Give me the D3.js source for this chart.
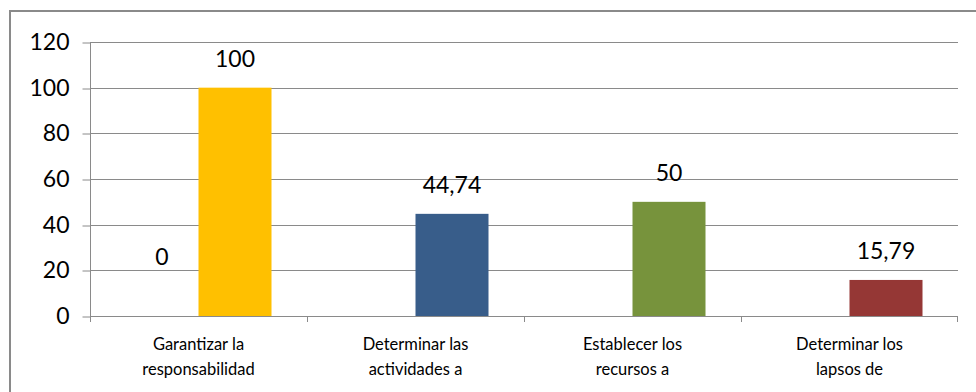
<!DOCTYPE html>
<html>
<head>
<meta charset="utf-8">
<script src="https://cdn.jsdelivr.net/npm/d3@7"></script>
<style>
  body { margin: 0; background: #fff; }
  svg { display: block; font-family: Lato, "Liberation Sans", sans-serif; }
</style>
</head>
<body>
<div id="plot"></div>
<script>
// datos
const categories = ["Garantizar la responsabilidad", "Determinar las actividades a", "Establecer los recursos a", "Determinar los lapsos de"];
const categoryLines = [["Garantizar la", "responsabilidad"], ["Determinar las", "actividades a"], ["Establecer los", "recursos a"], ["Determinar los", "lapsos de"]];
const series1 = [0, null, null, null];
const series2 = [100, 44.74, 50, 15.79];
const barColors = ["#FFC000", "#385D8A", "#77933C", "#953735"];
const yTicks = [0, 20, 40, 60, 80, 100, 120];

const width = 976, height = 392;
const marginLeft = 90, marginRight = 18, marginTop = 42, marginBottom = 76;
const gray = "#8a8a8a";

const svg = d3.select("#plot").append("svg")
    .attr("width", width)
    .attr("height", height);

// marco exterior
svg.append("rect")
    .attr("x", 10).attr("y", 11)
    .attr("width", width + 20).attr("height", height + 20)
    .attr("fill", "none")
    .attr("stroke", gray)
    .attr("stroke-width", 2);

const y = d3.scaleLinear()
    .domain([0, 120])
    .range([height - marginBottom, marginTop]);

const x0 = d3.scaleBand()
    .domain(categories)
    .range([marginLeft, width - marginRight])
    .padding(0);

const gap = x0.bandwidth() * 0.1636;
const x1 = d3.scaleBand()
    .domain(["s1", "s2"])
    .range([gap, x0.bandwidth() - gap])
    .padding(0);

// lineas de cuadricula
svg.append("g")
    .selectAll("line")
    .data(yTicks.filter(d => d > 0))
    .join("line")
    .attr("x1", marginLeft).attr("x2", width - marginRight)
    .attr("y1", d => Math.round(y(d)) + 0.5).attr("y2", d => Math.round(y(d)) + 0.5)
    .attr("stroke", gray)
    .attr("stroke-width", 1);

// eje y
const yAxis = svg.append("g")
    .attr("transform", `translate(${marginLeft + 0.5},0)`)
    .call(d3.axisLeft(y).tickValues(yTicks).tickSize(8).tickPadding(13).tickSizeOuter(0));
yAxis.select(".domain").remove();
yAxis.selectAll(".tick line").attr("stroke", gray)
    .attr("transform", d => `translate(0,${Math.round(y(d)) + 0.5 - y(d)})`);
yAxis.selectAll(".tick text")
    .attr("fill", "#000")
    .style("font-size", "23px")
    .style("font-family", "Lato, 'Liberation Sans', sans-serif");
svg.append("line")
    .attr("x1", marginLeft + 0.5).attr("x2", marginLeft + 0.5)
    .attr("y1", y(120)).attr("y2", y(0) + 6)
    .attr("stroke", gray);

// barras
const groups = svg.append("g")
    .selectAll("g")
    .data(categories)
    .join("g")
    .attr("transform", d => `translate(${x0(d)},0)`);

groups.append("rect")
    .attr("x", x1("s2"))
    .attr("width", x1.bandwidth())
    .attr("y", (d, i) => y(series2[i]))
    .attr("height", (d, i) => y(0) - y(series2[i]))
    .attr("fill", (d, i) => barColors[i]);

groups.filter((d, i) => series1[i] != null)
    .append("rect")
    .attr("x", x1("s1"))
    .attr("width", x1.bandwidth())
    .attr("y", (d, i) => y(0))
    .attr("height", 0)
    .attr("fill", "#4F81BD");

// etiquetas de datos
const fmt = v => String(v).replace(".", ",");
groups.append("text")
    .attr("x", x1("s2") + x1.bandwidth() / 2)
    .attr("y", (d, i) => y(series2[i]) - 21)
    .attr("text-anchor", "middle")
    .style("font-size", "23px")
    .text((d, i) => fmt(series2[i]));

groups.filter(d => series1[categories.indexOf(d)] != null)
    .append("text")
    .attr("x", x1("s1") + x1.bandwidth() / 2)
    .attr("y", d => y(series1[categories.indexOf(d)]) - 51)
    .attr("text-anchor", "middle")
    .style("font-size", "23px")
    .text(d => fmt(series1[categories.indexOf(d)]));

// eje x
svg.append("line")
    .attr("x1", marginLeft).attr("x2", width - marginRight)
    .attr("y1", Math.round(y(0)) + 0.5).attr("y2", Math.round(y(0)) + 0.5)
    .attr("stroke", gray);

svg.append("g")
    .selectAll("line")
    .data(categories.slice(1).concat(["end"]))
    .join("line")
    .attr("x1", d => d === "end" ? width - marginRight - 0.5 : Math.round(x0(d)) + 0.5)
    .attr("x2", d => d === "end" ? width - marginRight - 0.5 : Math.round(x0(d)) + 0.5)
    .attr("y1", y(0)).attr("y2", y(0) + 6)
    .attr("stroke", gray);

const labels = svg.append("g")
    .selectAll("text")
    .data(categories)
    .join("text")
    .attr("x", d => x0(d) + x0.bandwidth() / 2)
    .attr("y", y(0) + 34)
    .attr("text-anchor", "middle")
    .style("font-size", "16.5px");

labels.selectAll("tspan")
    .data((d, i) => categoryLines[i])
    .join("tspan")
    .attr("x", function () { return d3.select(this.parentNode).attr("x"); })
    .attr("dy", (d, j) => j === 0 ? 0 : 25)
    .text(d => d);
</script>
</body>
</html>
